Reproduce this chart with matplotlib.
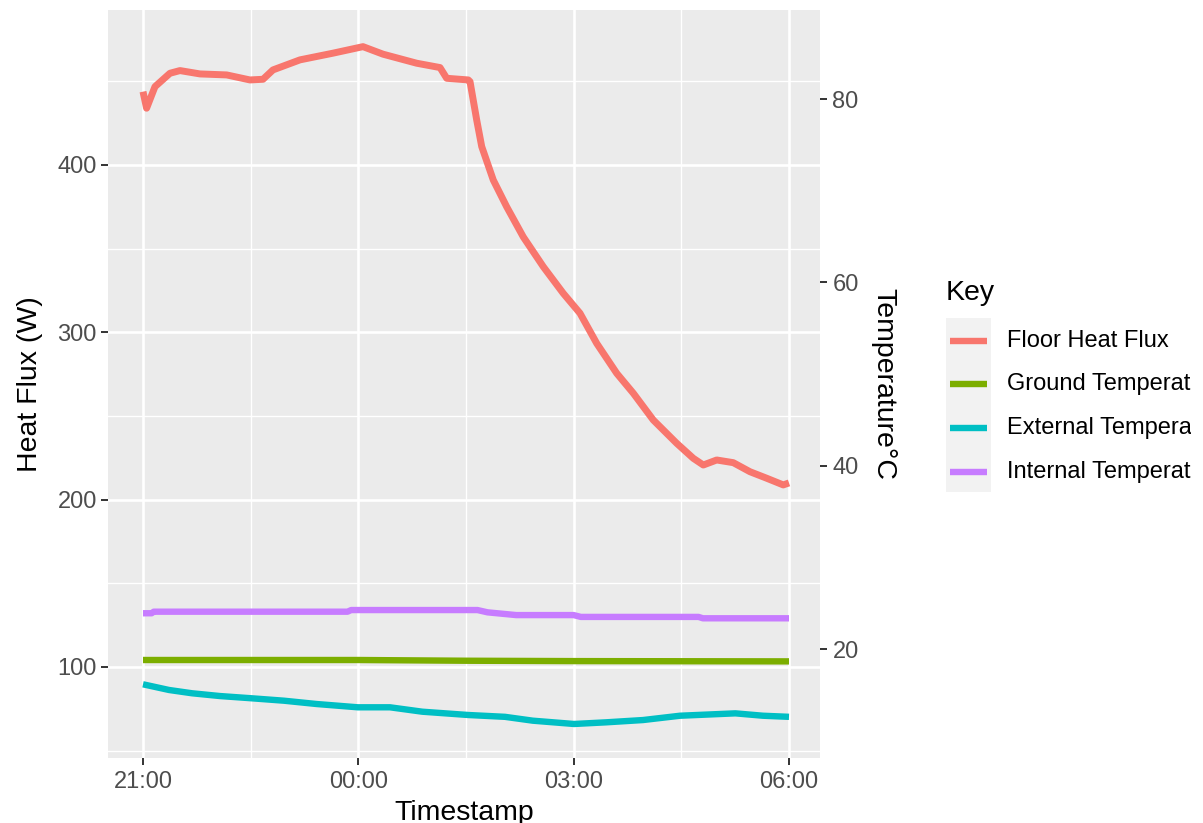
import matplotlib
matplotlib.use("Agg")
import matplotlib.pyplot as plt
from matplotlib.lines import Line2D
from matplotlib.patches import Rectangle

plt.rcParams['font.family'] = ['Liberation Sans', 'DejaVu Sans']

# ---------------- data (hours after 21:00) ----------------
flux_hours = [0.0, 0.05, 0.167, 0.376, 0.515, 0.794, 1.166, 1.49, 1.672, 1.811,
              2.187, 2.647, 3.065, 3.344, 3.813, 4.138, 4.231, 4.532, 4.556,
              4.649, 4.719, 4.88, 5.067, 5.298, 5.577, 5.855, 6.088, 6.321,
              6.6, 6.831, 7.109, 7.435, 7.667, 7.806, 7.993, 8.224, 8.456,
              8.689, 8.92, 9.0]
flux_watts = [443.8, 433.9, 446.8, 454.8, 456.4, 454.4, 453.8, 450.8, 451.2, 456.8,
              462.8, 466.8, 470.7, 466.2, 460.8, 458.2, 451.8, 450.8, 449.8,
              426.9, 411.0, 391.0, 375.0, 357.0, 339.2, 323.3, 311.4, 293.4,
              275.5, 263.6, 247.6, 233.7, 224.7, 220.7, 223.7, 222.1, 216.7,
              212.8, 208.8, 210.0]

ground_hours = [0.0, 3.0, 4.5, 6.0, 9.0]
ground_temp = [18.8, 18.8, 18.72, 18.68, 18.65]

external_hours = [0.0, 0.362, 0.683, 1.069, 1.519, 1.964, 2.416, 2.993, 3.441,
                  3.891, 4.532, 5.043, 5.431, 6.005, 6.45, 6.966, 7.481, 8.253,
                  8.638, 9.0]
external_temp = [16.15, 15.53, 15.17, 14.87, 14.62, 14.36, 14.0, 13.64, 13.64,
                 13.16, 12.8, 12.6, 12.18, 11.82, 12.0, 12.25, 12.72, 12.98,
                 12.72, 12.6]

internal_hours = [0.0, 0.12, 0.15, 2.85, 2.9, 4.66, 4.8, 5.2, 6.0, 6.1, 7.74, 7.8, 9.0]
internal_temp = [23.9, 23.9, 24.07, 24.07, 24.25, 24.25, 24.0, 23.7, 23.7, 23.5,
                 23.5, 23.35, 23.35]

x_tick_hours = [0, 3, 6, 9]
x_tick_labels = ["21:00", "00:00", "03:00", "06:00"]
flux_ticks = [100, 200, 300, 400]
temp_ticks = [20, 40, 60, 80]

legend_labels = ["Floor Heat Flux", "Ground Temperature", "External Temperature",
                 "Internal Temperature"]
colors = ["#F8766D", "#7CAE00", "#00BFC4", "#C77CFF"]

# ---------------- figure ----------------
W, H = 1203, 823
fig = plt.figure(figsize=(W / 100, H / 100), dpi=100)


def fx(px):
    return px / W


def fy(py):
    return 1 - py / H


ax = fig.add_axes([fx(108), fy(758), fx(820) - fx(108), fy(10) - fy(758)])
ax.set_facecolor('#EBEBEB')
ax.set_xlim(-0.4876, 9.432)
ax.set_ylim(45.62, 492.6)
for s in ax.spines.values():
    s.set_visible(False)

ax.set_xticks(x_tick_hours)
ax.set_xticklabels(x_tick_labels)
ax.set_xticks([1.5, 4.5, 7.5], minor=True)
ax.set_yticks(flux_ticks)
ax.set_yticks([50, 150, 250, 350, 450], minor=True)
ax.set_axisbelow(True)
ax.grid(which='major', color='white', linewidth=1.9)
ax.grid(which='minor', color='white', linewidth=1.0)
ax.tick_params(which='major', length=5, width=1.4, color='#333333',
               labelcolor='#4D4D4D', labelsize=17)
ax.tick_params(axis='x', which='major', pad=4)
ax.tick_params(axis='y', which='major', pad=3)
ax.tick_params(which='minor', length=0)

ax2 = ax.twinx()
ax2.set_ylim(8.109, 89.71)
for s in ax2.spines.values():
    s.set_visible(False)
ax2.set_yticks(temp_ticks)
ax2.tick_params(axis='y', length=5, width=1.4, color='#333333',
                labelcolor='#4D4D4D', labelsize=17, pad=4)

ax.plot(flux_hours, flux_watts, color=colors[0], linewidth=5,
        solid_joinstyle='round', solid_capstyle='butt')
ax2.plot(ground_hours, ground_temp, color=colors[1], linewidth=4.6,
         solid_capstyle='butt')
ax2.plot(external_hours, external_temp, color=colors[2], linewidth=4.6,
         solid_joinstyle='round', solid_capstyle='butt')
ax2.plot(internal_hours, internal_temp, color=colors[3], linewidth=4.6,
         solid_joinstyle='round', solid_capstyle='butt')

# axis titles
fig.text(fx(30), fy(384), 'Heat Flux (W)', rotation=90, ha='center', va='center',
         fontsize=20.5, color='black')
fig.text(fx(883), fy(384), 'Temperature°C', rotation=270, ha='center', va='center',
         fontsize=20.5, color='black')
fig.text(fx(464), fy(820), 'Timestamp', ha='center', va='baseline',
         fontsize=20.5, color='black')

# legend
fig.text(fx(946), fy(293.5), 'Key', ha='left', va='center', fontsize=20.5, color='black')
fig.add_artist(Rectangle((fx(946), fy(492)), fx(991) - fx(946), fy(318) - fy(492),
                         transform=fig.transFigure, facecolor='#F2F2F2',
                         edgecolor='none'))
for i, (lab, col) in enumerate(zip(legend_labels, colors)):
    yy = 341 + 43.5 * i
    fig.add_artist(Line2D([fx(950), fx(987)], [fy(yy), fy(yy)], color=col,
                          linewidth=4.6, transform=fig.transFigure,
                          solid_capstyle='butt'))
    fig.text(fx(1007), fy(yy), lab, ha='left', va='center', fontsize=17, color='black')

# the reference is cut off at the right edge
fig.add_artist(Rectangle((fx(1191), 0), 1 - fx(1191), 1, transform=fig.transFigure,
                         facecolor='white', edgecolor='none', zorder=10))

fig.savefig('out.png', dpi=100)
